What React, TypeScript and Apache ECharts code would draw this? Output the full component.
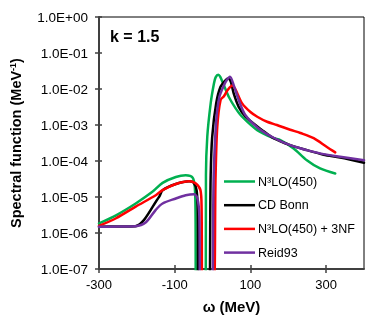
import React, { useEffect, useRef } from "react";
import * as echarts from "echarts";

const seriesNames = ["N³LO(450)", "CD Bonn", "N³LO(450) + 3NF", "Reid93"];
const seriesColors = ["#00b050", "#000000", "#ff0000", "#7030a0"];

const n3loOmega = [-300, -255, -203, -159, -132, -97, -71, -53, -47, -45, -44, -18, -17.5, -14, -5, 3.5, 8, 15, 20, 30, 43, 61, 78, 118, 161, 179, 214, 249, 284, 324];
const n3loValues = [1.85e-6, 3.1e-6, 6.6e-6, 1.39e-5, 2.47e-5, 3.6e-5, 4.0e-5, 3.5e-5, 1.9e-5, 3e-6, 1e-8, 1e-8, 4e-5, 4.7e-4, 4e-3, 1.4e-2, 2.1e-2, 2.5e-2, 2.2e-2, 1.26e-2, 6e-3, 2.9e-3, 1.7e-3, 7.2e-4, 4.3e-4, 3.8e-4, 2.24e-4, 1.05e-4, 6.2e-5, 4.5e-5];

const cdBonnOmega = [-300, -250, -204, -141, -132, -97, -62, -50, -42, -39, -38, -11, -5, -1, 9.6, 21, 34, 41, 48, 56, 69, 87, 131, 161, 205, 249, 293, 337, 400];
const cdBonnValues = [1.5e-6, 1.52e-6, 1.55e-6, 1.02e-5, 1.55e-5, 2.3e-5, 2.75e-5, 2.5e-5, 1.5e-5, 3e-6, 1e-8, 1e-8, 4e-5, 4.7e-4, 4e-3, 1.15e-2, 1.74e-2, 1.95e-2, 1.6e-2, 7.4e-3, 3.2e-3, 1.7e-3, 7.2e-4, 4.3e-4, 2.75e-4, 2.0e-4, 1.5e-4, 1.25e-4, 8.9e-5];

const n3lo3nfOmega = [-300, -255, -203, -150, -132, -97, -62, -45, -32, -29, -27, 1, 8, 12.4, 21, 30, 39, 52, 60, 78, 100, 118, 144, 170, 205, 232, 267, 302, 324];
const n3lo3nfValues = [1.58e-6, 2.57e-6, 5.4e-6, 1.12e-5, 1.55e-5, 2.3e-5, 2.75e-5, 2.4e-5, 1.55e-5, 5e-6, 1e-8, 1e-8, 4e-5, 8.9e-4, 4.9e-3, 6.3e-3, 9.1e-3, 1.26e-2, 1.0e-2, 4.0e-3, 2.3e-3, 1.7e-3, 1.23e-3, 1.0e-3, 7.4e-4, 6.0e-4, 4.3e-4, 2.45e-4, 1.74e-4];

const reid93Omega = [-300, -250, -204, -176, -150, -132, -97, -71, -49, -40, -35, -32, -4, 3, 9.7, 18, 30, 38, 46, 56, 69, 87, 120, 160, 205, 249, 293, 337, 400];
const reid93Values = [1.48e-6, 1.52e-6, 1.55e-6, 2.0e-6, 4.4e-6, 6.6e-6, 9.1e-6, 1.12e-5, 1.2e-5, 9.1e-6, 3e-6, 1e-8, 1e-8, 4e-5, 1.35e-3, 6e-3, 1.26e-2, 1.8e-2, 2.2e-2, 1.26e-2, 4.9e-3, 1.86e-3, 8.3e-4, 4.5e-4, 2.75e-4, 2.0e-4, 1.55e-4, 1.32e-4, 1.05e-4];

const xTickValues = [-300, -100, 100, 300];

const zip = (xs: number[], ys: number[]) => xs.map((x, i) => [x, ys[i]]);
const allData = [
  zip(n3loOmega, n3loValues),
  zip(cdBonnOmega, cdBonnValues),
  zip(n3lo3nfOmega, n3lo3nfValues),
  zip(reid93Omega, reid93Values),
];

const fmtExp = (v: number) => {
  const e = Math.round(Math.log10(v));
  const sign = e < 0 ? "-" : "+";
  return `1.0E${sign}${String(Math.abs(e)).padStart(2, "0")}`;
};

const FONT = "Liberation Sans, Arial, sans-serif";

export default function App() {
  const ref = useRef<HTMLDivElement>(null);
  useEffect(() => {
    if (!ref.current) return;
    const chart = echarts.init(ref.current, null, { renderer: "svg" });
    const axisColor = "#404040";
    chart.setOption({
      animation: false,
      color: seriesColors,
      textStyle: { fontFamily: FONT },
      grid: {
        left: 98,
        right: 17,
        top: 17,
        bottom: 55,
        show: true,
        borderColor: "#000",
        borderWidth: 1,
      },
      title: {
        text: "k = 1.5",
        left: 110,
        top: 28,
        padding: 0,
        textStyle: { fontFamily: FONT, fontWeight: "bold", fontSize: 16, color: "#000" },
      },
      legend: {
        orient: "vertical",
        left: 224,
        top: 175,
        padding: 0,
        itemWidth: 31,
        itemHeight: 14,
        itemGap: 10.7,
        icon: "path://M0,6 L31,6 L31,8.5 L0,8.5 Z",
        data: seriesNames,
        textStyle: { fontFamily: FONT, fontSize: 12.5, color: "#000", padding: [0, 0, 0, -2] },
      },
      xAxis: [
        {
          type: "value",
          min: -300,
          max: 400,
          name: "ω (MeV)",
          nameLocation: "middle",
          nameGap: 30,
          nameTextStyle: { fontFamily: FONT, fontWeight: "bold", fontSize: 15, color: "#000" },
          axisLine: { show: true, onZero: false, lineStyle: { color: axisColor, width: 2 } },
          axisTick: { show: true, length: 4, customValues: xTickValues, lineStyle: { color: axisColor, width: 1.5 } },
          axisLabel: { customValues: xTickValues, margin: 9, fontSize: 13, color: "#000", fontFamily: FONT },
          splitLine: { show: false },
        },
        {
          type: "value",
          min: -300,
          max: 400,
          position: "bottom",
          axisLine: { show: false, onZero: false },
          axisTick: { show: true, inside: true, length: 4, customValues: xTickValues, lineStyle: { color: axisColor, width: 1.5 } },
          axisLabel: { show: false },
          splitLine: { show: false },
        },
      ],
      yAxis: [
        {
          type: "log",
          logBase: 10,
          min: 1e-7,
          max: 1,
          name: "Spectral function (MeV{sup|-1})",
          nameLocation: "middle",
          nameGap: 76,
          nameTextStyle: {
            fontFamily: FONT,
            fontWeight: "bold",
            fontSize: 14.5,
            color: "#000",
            rich: { sup: { fontFamily: FONT, fontWeight: "bold", fontSize: 9, verticalAlign: "top", padding: [0, 0, 6, 0] } },
          },
          axisLine: { show: true, onZero: false, lineStyle: { color: axisColor, width: 2 } },
          axisTick: { show: true, length: 4, lineStyle: { color: axisColor, width: 1.5 } },
          axisLabel: { margin: 11, fontSize: 13.5, color: "#000", fontFamily: FONT, formatter: (v: number) => fmtExp(v) },
          splitLine: { show: false },
          minorTick: { show: false },
        },
        {
          type: "log",
          logBase: 10,
          min: 1e-7,
          max: 1,
          position: "left",
          axisLine: { show: false, onZero: false },
          axisTick: { show: true, inside: true, length: 3, lineStyle: { color: axisColor, width: 1.5 } },
          axisLabel: { show: false },
          splitLine: { show: false },
        },
      ],
      series: allData.map((d, i) => ({
        name: seriesNames[i],
        type: "line",
        data: d,
        xAxisIndex: 0,
        yAxisIndex: 0,
        symbol: "none",
        showSymbol: false,
        smooth: 0.3,
        clip: true,
        color: seriesColors[i],
        itemStyle: { color: seriesColors[i] },
        lineStyle: { color: seriesColors[i], width: 2.5, join: "round", cap: "round" },
      })),
    });
    return () => chart.dispose();
  }, []);
  return <div ref={ref} style={{ position: "fixed", left: 0, top: 0, width: 381, height: 324 }} />;
}
